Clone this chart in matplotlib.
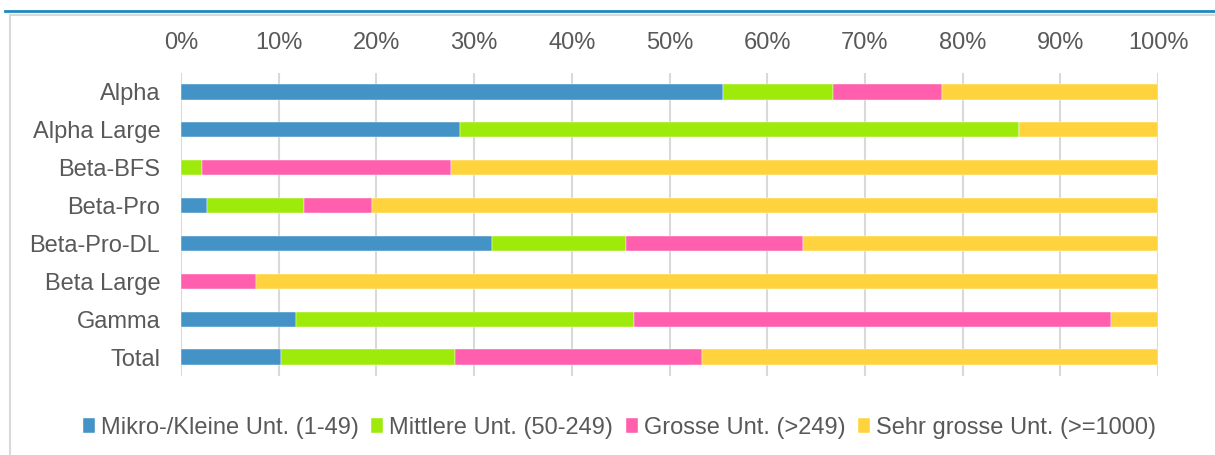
import numpy as np
import matplotlib.pyplot as plt
from matplotlib.lines import Line2D

plt.rcParams['font.family'] = ['Liberation Sans', 'DejaVu Sans']

# ── Data (share in %) ──────────────────────────────────
categories = ['Alpha', 'Alpha Large', 'Beta-BFS', 'Beta-Pro',
              'Beta-Pro-DL', 'Beta Large', 'Gamma', 'Total']
mikro  = [55.5, 28.6, 0.0, 2.7, 31.8, 0.0, 11.8, 10.2]
mittel = [11.2, 57.2, 2.1, 9.9, 13.7, 0.0, 34.6, 17.8]
gross  = [11.2, 0.0, 25.5, 7.0, 18.2, 7.7, 48.8, 25.3]
sehr   = [22.1, 14.2, 72.4, 80.4, 36.3, 92.3, 4.8, 46.7]

series_names = ['Mikro-/Kleine Unt. (1-49)', 'Mittlere Unt. (50-249)',
                'Grosse Unt. (>249)', 'Sehr grosse Unt. (>=1000)']
colors = ['#4493C6', '#9EEA0A', '#FF5FAD', '#FFD33D']
text_col = '#595959'

W, H = 1215, 455
fig = plt.figure(figsize=(W / 100, H / 100), dpi=100)
ax = fig.add_axes([181 / W, 1 - 376 / H, (1158 - 181) / W, (376 - 73) / H])

data = np.array([mikro, mittel, gross, sehr], dtype=float)
data = data / data.sum(axis=0) * 100
y = np.arange(len(categories))
left = np.zeros(len(categories))
handles = []
for vals, name, col in zip(data, series_names, colors):
    b = ax.barh(y, vals, left=left, height=0.4, color=col, label=name,
                edgecolor='white', linewidth=0.3, zorder=3)
    handles.append(b)
    left += vals

ax.set_xlim(0, 100)
ax.set_ylim(len(categories) - 0.5, -0.5)
ax.set_xticks(np.arange(0, 101, 10))
ax.set_xticklabels([f'{v}%' for v in range(0, 101, 10)])
ax.set_yticks(y)
ax.set_yticklabels(categories)
ax.xaxis.tick_top()
ax.tick_params(axis='x', length=0, pad=14, labelsize=17, labelcolor=text_col)
ax.tick_params(axis='y', length=0, pad=15, labelsize=17, labelcolor=text_col)
ax.grid(axis='x', color='#D9D9D9', linewidth=1.5, zorder=0)
for s in ax.spines.values():
    s.set_visible(False)

fig.legend(handles=handles, labels=series_names, loc='center',
           bbox_to_anchor=(619.5 / W, 1 - 428 / H), ncol=4, frameon=False,
           fontsize=17, labelcolor=text_col, handlelength=0.5,
           handleheight=0.6, handletextpad=0.25, columnspacing=0.55,
           borderpad=0)

# chart frame and top accent line
fig.add_artist(Line2D([9.5 / W, 9.5 / W], [0, 1 - 14.5 / H],
                      color='#D9D9D9', lw=1.5))
fig.add_artist(Line2D([9.5 / W, 1], [1 - 14.5 / H, 1 - 14.5 / H],
                      color='#D9D9D9', lw=1.5))
fig.add_artist(Line2D([5 / W, 1], [1 - 11 / H, 1 - 11 / H],
                      color='#1F87C1', lw=2))

fig.savefig('out.png', dpi=100)
plt.close()
